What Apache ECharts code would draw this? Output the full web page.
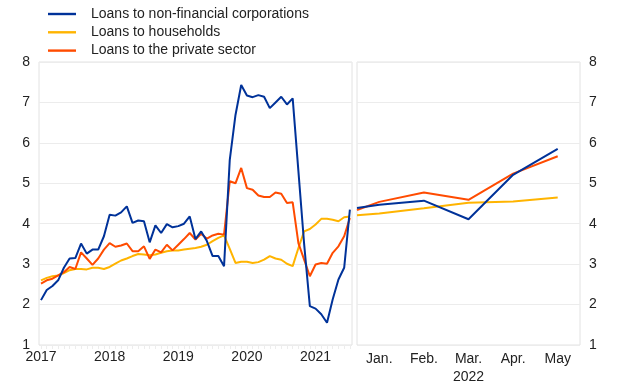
<!DOCTYPE html>
<html>
<head>
<meta charset="utf-8">
<script src="https://cdn.jsdelivr.net/npm/echarts@6/dist/echarts.min.js"></script>
<style>
html,body{margin:0;padding:0;background:#fff;}
#chart{width:620px;height:387px;}
</style>
</head>
<body>
<div id="chart"></div>
<script>
// ---- Data ----
const seriesNames = ['Loans to non-financial corporations', 'Loans to households', 'Loans to the private sector'];
const yearLabels = ['2017', '2018', '2019', '2020', '2021'];
// monthly observations, Jan 2017 onwards (left panel)
const corporationsLeft = [2.11,2.36,2.46,2.60,2.91,3.14,3.15,3.51,3.26,3.36,3.36,3.69,
  4.22,4.20,4.28,4.43,4.02,4.08,4.06,3.54,3.96,3.77,3.99,3.91,
  3.94,4.00,4.18,3.62,3.81,3.57,3.20,3.20,2.95,5.58,6.69,7.43,
  7.17,7.13,7.18,7.14,6.86,7.00,7.14,6.95,7.10,5.30,3.50,1.96,
  1.90,1.76,1.55,2.13,2.62,2.91,4.35];
const householdsLeft = [2.60,2.66,2.70,2.72,2.78,2.85,2.88,2.88,2.87,2.91,2.91,2.88,
  2.93,3.01,3.09,3.14,3.20,3.25,3.24,3.22,3.24,3.28,3.32,3.34,
  3.34,3.36,3.38,3.40,3.43,3.48,3.57,3.65,3.71,3.38,3.03,3.06,
  3.06,3.03,3.05,3.11,3.20,3.14,3.11,3.01,2.95,3.40,3.81,3.87,
  3.98,4.12,4.12,4.10,4.06,4.16,4.18];
const privateLeft = [2.52,2.60,2.64,2.72,2.80,2.93,2.88,3.29,3.14,2.98,3.14,3.36,
  3.52,3.43,3.46,3.51,3.32,3.32,3.44,3.13,3.36,3.29,3.48,3.34,
  3.48,3.62,3.77,3.61,3.75,3.63,3.71,3.75,3.73,5.05,5.00,5.38,
  4.88,4.84,4.70,4.66,4.66,4.77,4.74,4.51,4.53,3.52,3.11,2.70,
  2.99,3.03,3.01,3.28,3.44,3.69,4.14];
// right panel (2022), positions in month units: 0.5 = end of 2021, 1 = Jan ... 5 = May
const monthLabels = ['Jan.', 'Feb.', 'Mar.', 'Apr.', 'May'];
const rightYearLabel = '2022';
const rightPos = [0.5, 1, 2, 3, 4, 5];
const corporationsRight = [4.39, 4.47, 4.57, 4.11, 5.21, 5.85];
const householdsRight = [4.21, 4.25, 4.38, 4.52, 4.55, 4.65];
const privateRight = [4.34, 4.54, 4.77, 4.59, 5.24, 5.67];
const yTicks = [1, 8, 1]; // min, max, interval

// ---- Chart ----
const colors = ['#003299', '#ffb400', '#ff4b00'];
const font = 'Liberation Sans, Arial, Helvetica, sans-serif';
const toPairs = (vals) => vals.map((v, i) => [i, v]);
const toPairsX = (xs, vals) => vals.map((v, i) => [xs[i], v]);
const monthTicks = corporationsLeft.map((_, i) => i);
const yearTicks = yearLabels.map((_, i) => i * 12);

const chart = echarts.init(document.getElementById('chart'), null, {renderer: 'canvas'});
const gridBorder = '#e2e2e2';
const splitColor = '#ececec';
const labelStyle = {fontSize: 14, color: '#222', fontFamily: font};

function lineSeries(name, data, color, axis) {
  return {
    name: name, type: 'line', data: data, xAxisIndex: axis, yAxisIndex: axis,
    symbol: 'none', smooth: false, animation: false,
    lineStyle: {width: 2, color: color}, itemStyle: {color: color}
  };
}

const option = {
  animation: false,
  textStyle: {fontFamily: font},
  legend: {
    data: seriesNames, orient: 'vertical', left: 43, top: 2,
    icon: 'rect', itemWidth: 28, itemHeight: 2.4, itemGap: 4.3,
    textStyle: {fontSize: 14, color: '#222', fontFamily: font, lineHeight: 14, padding: [0, 0, 0, 10]}
  },
  grid: [
    {left: 39, top: 62, width: 313, height: 283, show: true, borderColor: gridBorder, borderWidth: 1, backgroundColor: 'transparent'},
    {left: 357, top: 62, width: 223, height: 283, show: true, borderColor: gridBorder, borderWidth: 1, backgroundColor: 'transparent'}
  ],
  xAxis: [
    {
      type: 'value', gridIndex: 0, min: -0.35, max: 54.37,
      axisLine: {show: false}, splitLine: {show: false},
      axisTick: {show: true, customValues: monthTicks, length: 4, lineStyle: {color: '#ededed'}},
      axisLabel: Object.assign({customValues: yearTicks, margin: 5,
        formatter: (v) => yearLabels[Math.round(v / 12)] || ''}, labelStyle)
    },
    {
      type: 'value', gridIndex: 1, min: 0.5, max: 5.5,
      axisLine: {show: false}, splitLine: {show: false},
      axisTick: {show: false},
      axisLabel: Object.assign({customValues: [1, 2, 3, 4, 5], margin: 5, lineHeight: 18,
        formatter: (v) => {
          const i = Math.round(v) - 1;
          return i === 2 ? monthLabels[i] + '\n' + rightYearLabel : (monthLabels[i] || '');
        }}, labelStyle)
    }
  ],
  yAxis: [
    {
      type: 'value', gridIndex: 0, min: yTicks[0], max: yTicks[1], interval: yTicks[2], position: 'left',
      axisLine: {show: false}, axisTick: {show: false},
      splitLine: {show: true, lineStyle: {color: splitColor, width: 1}},
      axisLabel: Object.assign({margin: 9}, labelStyle)
    },
    {
      type: 'value', gridIndex: 1, min: yTicks[0], max: yTicks[1], interval: yTicks[2], position: 'right',
      axisLine: {show: false}, axisTick: {show: false},
      splitLine: {show: true, lineStyle: {color: splitColor, width: 1}},
      axisLabel: Object.assign({margin: 9}, labelStyle)
    }
  ],
  series: [
    lineSeries(seriesNames[1], toPairs(householdsLeft), colors[1], 0),
    lineSeries(seriesNames[2], toPairs(privateLeft), colors[2], 0),
    lineSeries(seriesNames[0], toPairs(corporationsLeft), colors[0], 0),
    lineSeries(seriesNames[1], toPairsX(rightPos, householdsRight), colors[1], 1),
    lineSeries(seriesNames[2], toPairsX(rightPos, privateRight), colors[2], 1),
    lineSeries(seriesNames[0], toPairsX(rightPos, corporationsRight), colors[0], 1)
  ]
};
chart.setOption(option);
</script>
</body>
</html>
